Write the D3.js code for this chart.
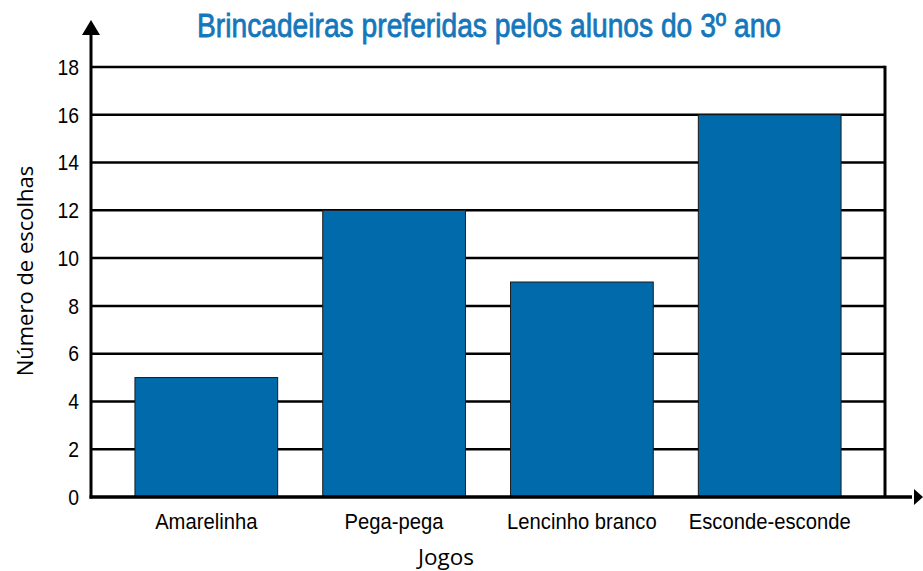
<html><head><title>Brincadeiras preferidas</title>
<style>
  body { margin: 0; background: #fff; }
  text { font-family: 'Liberation Sans', Arial, sans-serif; }
  .axis-title { font-family: 'Open Sans', 'Noto Sans', sans-serif; }
</style>
</head>
<body>
<svg id="chart" width="923" height="571"></svg>
<script src="https://d3js.org/d3.v7.min.js"></script>
<script>
  const games = ["Amarelinha", "Pega-pega", "Lencinho branco", "Esconde-esconde"];
  const votes = [5, 12, 9, 16];
  const yTicks = [0, 2, 4, 6, 8, 10, 12, 14, 16, 18];

  const svg = d3.select("#chart");
  const plotLeft = 91, plotRight = 885, plotTop = 67, plotBottom = 497;

  const x = d3.scaleBand().domain(games).range([plotLeft, plotRight]).paddingInner(0.24).paddingOuter(0.234);
  const y = d3.scaleLinear().domain([0, 18]).range([plotBottom, plotTop]);

  // squeeze text a bit horizontally around its anchor (condensed look)
  const squeeze = (cx, s) => `translate(${cx},0) scale(${s},1) translate(${-cx},0)`;

  // grid lines
  svg.append("g").selectAll("line")
    .data(yTicks.filter(d => d > 0))
    .enter().append("line")
    .attr("x1", plotLeft).attr("x2", plotRight)
    .attr("y1", d => y(d)).attr("y2", d => y(d))
    .attr("stroke", "#000").attr("stroke-width", 2.5);

  // right border
  svg.append("line")
    .attr("x1", plotRight).attr("x2", plotRight)
    .attr("y1", plotTop - 1.2).attr("y2", plotBottom)
    .attr("stroke", "#000").attr("stroke-width", 3);

  // bars
  svg.append("g").selectAll("rect")
    .data(games)
    .enter().append("rect")
    .attr("x", d => x(d))
    .attr("width", x.bandwidth())
    .attr("y", (d, i) => y(votes[i]))
    .attr("height", (d, i) => plotBottom - y(votes[i]))
    .attr("fill", "#006aab")
    .attr("stroke", "#1a1a1a").attr("stroke-width", 1);

  // y axis with arrow
  svg.append("line")
    .attr("x1", plotLeft).attr("x2", plotLeft)
    .attr("y1", plotBottom + 1.5).attr("y2", 32)
    .attr("stroke", "#000").attr("stroke-width", 3);
  svg.append("path")
    .attr("d", `M${plotLeft},20 L${plotLeft - 9},35 L${plotLeft + 9},35 Z`)
    .attr("fill", "#000");

  // x axis with arrow
  svg.append("line")
    .attr("x1", plotLeft - 1.5).attr("x2", 912)
    .attr("y1", plotBottom).attr("y2", plotBottom)
    .attr("stroke", "#000").attr("stroke-width", 3.5);
  svg.append("path")
    .attr("d", `M923,${plotBottom} L914,${plotBottom - 8} L914,${plotBottom + 8} Z`)
    .attr("fill", "#000");

  // y tick labels
  svg.append("g").selectAll("text")
    .data(yTicks)
    .enter().append("text")
    .attr("x", 79)
    .attr("y", d => y(d))
    .attr("dy", "0.36em")
    .attr("text-anchor", "end")
    .attr("font-size", 21.5)
    .attr("transform", squeeze(79, 0.9))
    .text(d => d);

  // category labels
  svg.append("g").selectAll("text")
    .data(games)
    .enter().append("text")
    .attr("x", d => x(d) + x.bandwidth() / 2)
    .attr("y", 529)
    .attr("text-anchor", "middle")
    .attr("font-size", 22)
    .attr("transform", d => squeeze(x(d) + x.bandwidth() / 2, 0.92))
    .text(d => d);

  // axis titles
  svg.append("text")
    .attr("class", "axis-title")
    .attr("x", 446).attr("y", 565)
    .attr("text-anchor", "middle")
    .attr("font-size", 22.5)
    .text("Jogos");

  svg.append("text")
    .attr("class", "axis-title")
    .attr("transform", "translate(33,271) rotate(-90)")
    .attr("text-anchor", "middle")
    .attr("font-size", 22)
    .text("Número de escolhas");

  // title
  svg.append("text")
    .attr("x", 197).attr("y", 37)
    .attr("font-size", 33)
    .attr("fill", "#1577bb")
    .attr("stroke", "#1577bb").attr("stroke-width", 0.8)
    .attr("textLength", 584)
    .attr("lengthAdjust", "spacingAndGlyphs")
    .text("Brincadeiras preferidas pelos alunos do 3º ano");
</script>
</body></html>
